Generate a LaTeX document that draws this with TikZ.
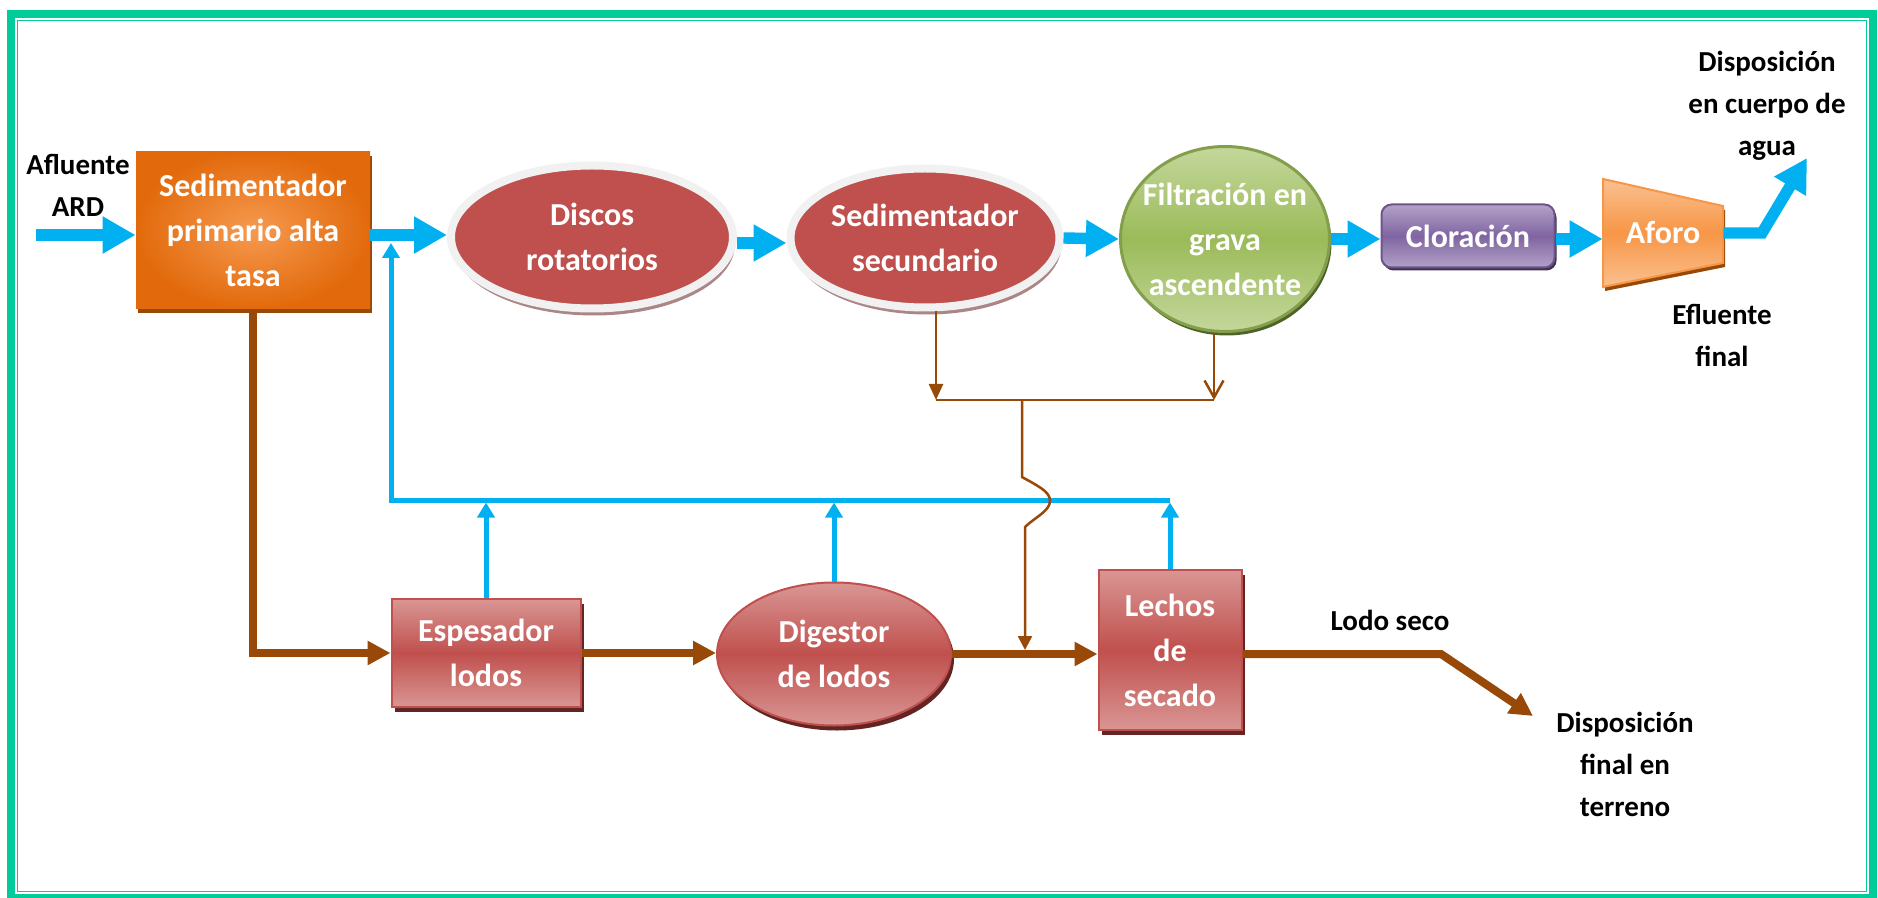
\documentclass[tikz,border=0pt]{standalone}
\usepackage{fontspec}
\setmainfont{Carlito}
\usepackage{tikz}
\usetikzlibrary{shapes.geometric,arrows.meta,shadows}

\definecolor{framegreen}{RGB}{0,204,153}
\definecolor{flowblue}{RGB}{0,176,240}
\definecolor{sludge}{RGB}{152,72,7}
\definecolor{orangedark}{RGB}{226,106,12}
\definecolor{orangelight}{RGB}{246,154,80}
\definecolor{reddish}{RGB}{192,80,77}
\definecolor{redlight}{RGB}{217,150,148}
\definecolor{redshadow}{RGB}{99,37,35}
\definecolor{ringgrey}{RGB}{241,241,241}
\definecolor{ringshadow}{RGB}{172,134,134}
\definecolor{grassgreen}{RGB}{155,187,89}
\definecolor{grasslight}{RGB}{196,215,155}
\definecolor{grassdark}{RGB}{79,98,40}
\definecolor{grapepurple}{RGB}{128,100,162}
\definecolor{grapelight}{RGB}{179,162,199}
\definecolor{grapedark}{RGB}{63,49,81}
\definecolor{aforoorange}{RGB}{247,150,70}
\definecolor{aforolight}{RGB}{250,192,144}

\tikzset{
  whitetxt/.style={font=\bfseries\fontsize{16}{22.5}\selectfont, text=white, align=center, inner sep=0pt},
  blacktxt/.style={font=\bfseries\fontsize{14.5}{21}\selectfont, align=center, inner sep=0pt},
  primbox/.style={whitetxt, rectangle, minimum width=117pt, minimum height=78.5pt,
    inner color=orangelight, outer color=orangedark,
    drop shadow={shadow xshift=1pt, shadow yshift=-2.5pt, fill=sludge, opacity=1}},
  ringell/.style={whitetxt, ellipse, fill=reddish, draw=ringgrey, line width=4pt,
    drop shadow={shadow xshift=1pt, shadow yshift=-3.5pt, fill=ringshadow, opacity=1}},
  filtell/.style={whitetxt, ellipse, inner sep=-6pt, minimum width=104.5pt, minimum height=92.5pt,
    draw=grassgreen!85!black, line width=1.5pt,
    top color=grasslight, bottom color=grasslight, middle color=grassgreen,
    drop shadow={shadow xshift=1pt, shadow yshift=-2pt, fill=grassdark, opacity=1}},
  clorbox/.style={whitetxt, rectangle, rounded corners=5pt, minimum width=86.5pt, minimum height=31.5pt,
    draw=grapepurple!85!black, line width=1pt,
    top color=grapelight, bottom color=grapelight, middle color=grapepurple,
    drop shadow={shadow xshift=1pt, shadow yshift=-1.5pt, fill=grapedark, opacity=1}},
  sludgebox/.style={whitetxt, draw=reddish, line width=1pt,
    top color=redlight, bottom color=redlight, middle color=reddish,
    drop shadow={shadow xshift=1.5pt, shadow yshift=-2.5pt, fill=redshadow, opacity=1}},
  bluearrow/.style={draw=flowblue, line width=5.7pt, -{Triangle[width=17.5pt,length=16.5pt]}},
  bluethin/.style={draw=flowblue, line width=2.5pt, -{Triangle[width=8.5pt,length=7.5pt]}},
  brownthick/.style={draw=sludge, line width=4pt, -{Triangle[width=11.5pt,length=11.5pt]}},
  brownthin/.style={draw=sludge, line width=1.25pt}
}

\begin{document}
\begin{tikzpicture}[x=0.5pt,y=-0.5pt]
  \useasboundingbox (0,0) rectangle (1878,898);
  \draw[framegreen, line width=4pt] (11,14) rectangle (1873,898);
  \draw[framegreen, line width=0.65pt] (17.5,20.5) rectangle (1866.5,891.5);

  \node[primbox] (sedprim) at (253,230) {Sedimentador\\primario alta\\tasa};
  \node[ringell, minimum width=141pt, minimum height=71.5pt] (discos) at (592,237) {Discos\\rotatorios};
  \node[ringell, minimum width=134.5pt, minimum height=69.5pt] (sedsec) at (925,238) {Sedimentador\\secundario};
  \node[filtell] (filt) at (1225,239) {Filtración en\\grava\\ascendente};
  \node[clorbox] (clor) at (1468,236) {Cloración};
  \shade[top color=aforolight, bottom color=aforolight, middle color=aforoorange,
    draw=aforoorange, line width=1pt,
    drop shadow={shadow xshift=1pt, shadow yshift=-2pt, fill=sludge, opacity=1}]
    (1603,179) -- (1723,206) -- (1723,263) -- (1603,287) -- cycle;
  \node[whitetxt, minimum width=60pt, minimum height=53.5pt] (aforo) at (1663,233) {Aforo};

  \node[sludgebox, minimum width=94.5pt, minimum height=54pt] (espes) at (486,653) {Espesador\\lodos};
  \node[sludgebox, ellipse, minimum width=117pt, minimum height=71.5pt] (digest) at (834,654) {Digestor\\de lodos};
  \node[sludgebox, minimum width=71.5pt, minimum height=80pt] (lechos) at (1170,650) {Lechos\\de\\secado};

  \node[blacktxt] (afluente) at (78,185) {Afluente\\ARD};
  \node[blacktxt] (dispagua) at (1767,106) {Disposición\\en cuerpo de\\agua};
  \node[blacktxt] (efluente) at (1722,335) {Efluente\\final};
  \node[blacktxt] (lodoseco) at (1390,620) {Lodo seco};
  \node[blacktxt] (dispterr) at (1625,764) {Disposición\\final en\\terreno};

  \coordinate (inlet) at (36,235);
  \coordinate (outbend) at (1762,233);
  \coordinate (outtip) at (1807,158);
  \draw[bluearrow] (inlet) -- (inlet -| sedprim.west);
  \draw[bluearrow] (sedprim.east |- inlet) -- (discos.west |- inlet);
  \draw[bluearrow] ([yshift=-3pt]discos.east) -- ([yshift=-3pt]discos.east -| sedsec.west);
  \draw[bluearrow] (sedsec.east) -- (filt.west);
  \draw[bluearrow] (filt.east) -- (filt.east -| clor.west);
  \draw[bluearrow] (clor.east |- filt.east) -- (filt.east -| aforo.west);
  \draw[bluearrow] (aforo.east) -- (outbend) -- (outtip);

  \coordinate (retL) at (391,500);
  \coordinate (retT) at (391,243);
  \draw[bluethin] (lechos.north |- retL) -- (retL) -- (retT);
  \draw[bluethin, shorten >=1.25pt] (espes.north) -- (espes.north |- retL);
  \draw[bluethin, shorten >=1.25pt] (digest.north) -- (digest.north |- retL);
  \draw[bluethin, shorten >=1.25pt] (lechos.north) -- (lechos.north |- retL);

  \coordinate (lodobend) at (1441,654);
  \coordinate (lodotip) at (1533,716);
  \draw[brownthick] (sedprim.south) |- (espes.west);
  \draw[brownthick] (espes.east) -- (espes.east -| digest.west);
  \draw[brownthick] (digest.east) -- (digest.east -| lechos.west);
  \draw[brownthick] (digest.east -| lechos.east) -- (lodobend) -- (lodotip);

  \coordinate (sjoin) at (936,400);
  \coordinate (fjoin) at (1214,400);
  \coordinate (hoptop) at (1022,400);
  \coordinate (hopend) at (1025,650);
  \draw[brownthin, -{Triangle[width=7pt,length=8pt]}] (sedsec.south -| sjoin) -- (sjoin);
  \draw[brownthin, -{Straight Barb[width=9.5pt,length=8.5pt]}] (filt.south -| fjoin) -- (fjoin);
  \draw[brownthin] (sjoin) -- (fjoin);
  \draw[brownthin, -{Triangle[width=7pt,length=7pt]}] (hoptop) -- (1022,477)
    .. controls (1040,487) and (1050,492) .. (1050,501)
    .. controls (1050,511) and (1034,518) .. (1025,527) -- (hopend);
\end{tikzpicture}
\end{document}
